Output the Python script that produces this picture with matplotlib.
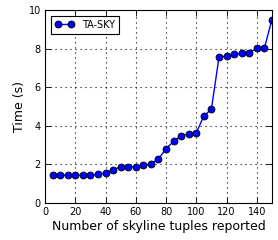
import matplotlib
matplotlib.use('Agg')
import matplotlib.pyplot as plt

tuples = [5, 10, 15, 20, 25, 30, 35, 40, 45, 50, 55, 60, 65, 70, 75,
          80, 85, 90, 95, 100, 105, 110, 115, 120, 125, 130, 135, 140, 145, 150]
time_s = [1.43, 1.43, 1.43, 1.43, 1.43, 1.44, 1.47, 1.56, 1.71, 1.87, 1.87, 1.87, 1.94, 2.02, 2.28,
          2.8, 3.19, 3.48, 3.58, 3.63, 4.5, 4.86, 7.54, 7.62, 7.7, 7.75, 7.78, 8.01, 8.01, 9.5]

fig = plt.figure(figsize=(2.78, 2.4), dpi=100)
ax = fig.add_axes([0.162, 0.155, 0.816, 0.803])

ax.plot(tuples, time_s, color='b', marker='o', markersize=5, markeredgecolor='k',
        markeredgewidth=0.6, linewidth=1, label='TA-SKY')

ax.set_xlim(0, 150)
ax.set_ylim(0, 10)
ax.set_xticks(range(0, 141, 20))
ax.set_yticks(range(0, 11, 2))
ax.grid(True, linestyle=(0, (1, 3.5)), color='k', linewidth=0.8)
ax.tick_params(direction='in', top=True, right=True, labelsize=7, length=4, width=0.6, pad=3)
for s in ax.spines.values():
    s.set_linewidth(0.8)

ax.set_xlabel('Number of skyline tuples reported', fontsize=9, labelpad=2)
ax.set_ylabel('Time (s)', fontsize=9, labelpad=2)

leg = ax.legend(loc='upper left', fontsize=7, fancybox=False, framealpha=1, numpoints=2,
                edgecolor='k', handlelength=2.0, borderpad=0.4, borderaxespad=0.6)
leg.get_frame().set_linewidth(0.8)

fig.savefig('out.png', dpi=100)
